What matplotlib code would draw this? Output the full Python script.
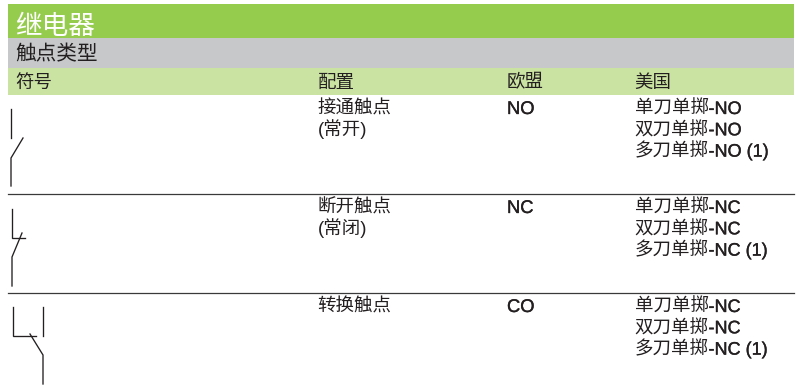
import matplotlib
matplotlib.use("Agg")
import matplotlib.pyplot as plt
import matplotlib.patheffects as pe

plt.rcParams['font.family'] = ['Liberation Sans', 'Noto Sans CJK SC', 'DejaVu Sans']

W, H = 796, 390
title = "继电器"
subtitle = "触点类型"
headers = ["符号", "配置", "欧盟", "美国"]
header_x = [15.5, 317.5, 506.5, 634.5]
config = [["接通触点", "(常开)"], ["断开触点", "(常闭)"], ["转换触点"]]
eu = ["NO", "NC", "CO"]
us_prefix = ["单刀单掷", "双刀单掷", "多刀单掷"]
us_suffix = [["-NO", "-NO", "-NO (1)"],
             ["-NC", "-NC", "-NC (1)"],
             ["-NC", "-NC", "-NC (1)"]]
row_base = [114.0, 213.0, 312.0]
line_step = 21.3
bands = [(4, 38, "#96cc4e"), (38, 68, "#c6c8ca"), (68, 95, "#cae2a2")]
rules_y = [194, 292.5]
symbols = [
    [[(11, 109), (11, 138)], [(23, 138), (11, 158), (11, 186)]],
    [[(12, 209), (12, 238), (25, 238)], [(22, 233), (12, 257), (12, 286)]],
    [[(12.5, 307), (12.5, 336), (36, 336)], [(43, 307), (43, 336)],
     [(30, 334), (43, 355), (43, 384)]],
]

fig = plt.figure(figsize=(W / 100, H / 100), dpi=100)
ax = fig.add_axes([0, 0, 1, 1])
ax.set_xlim(0, W)
ax.set_ylim(H, 0)
ax.axis("off")

for top, bottom, color in bands:
    ax.fill_between([8, 794], top, bottom, color=color, lw=0)
for y in rules_y:
    ax.plot([8, 794], [y, y], color="#3a3a3a", lw=0.9)

text_c = "#231f20"
heavy = [pe.withStroke(linewidth=0.25, foreground=text_c)]
ax.text(15.5, 34.5, title, color="white", fontsize=19.2, va="baseline")
ax.text(15.5, 60, subtitle, color=text_c, fontsize=14.9, va="baseline")
for x, h in zip(header_x, headers):
    ax.text(x, 87.5, h, color=text_c, fontsize=13.3, va="baseline")

fig.canvas.draw()
renderer = fig.canvas.get_renderer()
for y0, c, e, suffixes in zip(row_base, config, eu, us_suffix):
    for i, line in enumerate(c):
        ax.text(header_x[1], y0 + i * line_step, line, color=text_c, fontsize=13.3, va="baseline")
    ax.text(header_x[2] + 0.5, y0, e, color=text_c, fontsize=13.2, va="baseline", path_effects=heavy)
    for i, (p, s) in enumerate(zip(us_prefix, suffixes)):
        y = y0 + i * line_step
        t = ax.text(header_x[3], y, p, color=text_c, fontsize=13.3, va="baseline")
        end = t.get_window_extent(renderer).x1
        ax.text(end, y, s, color=text_c, fontsize=13.0, va="baseline", path_effects=heavy)

for symbol in symbols:
    for path in symbol:
        xs, ys = zip(*path)
        ax.plot(xs, ys, color="#231f20", lw=0.95, solid_joinstyle="miter")

fig.savefig("out.png", dpi=100)
